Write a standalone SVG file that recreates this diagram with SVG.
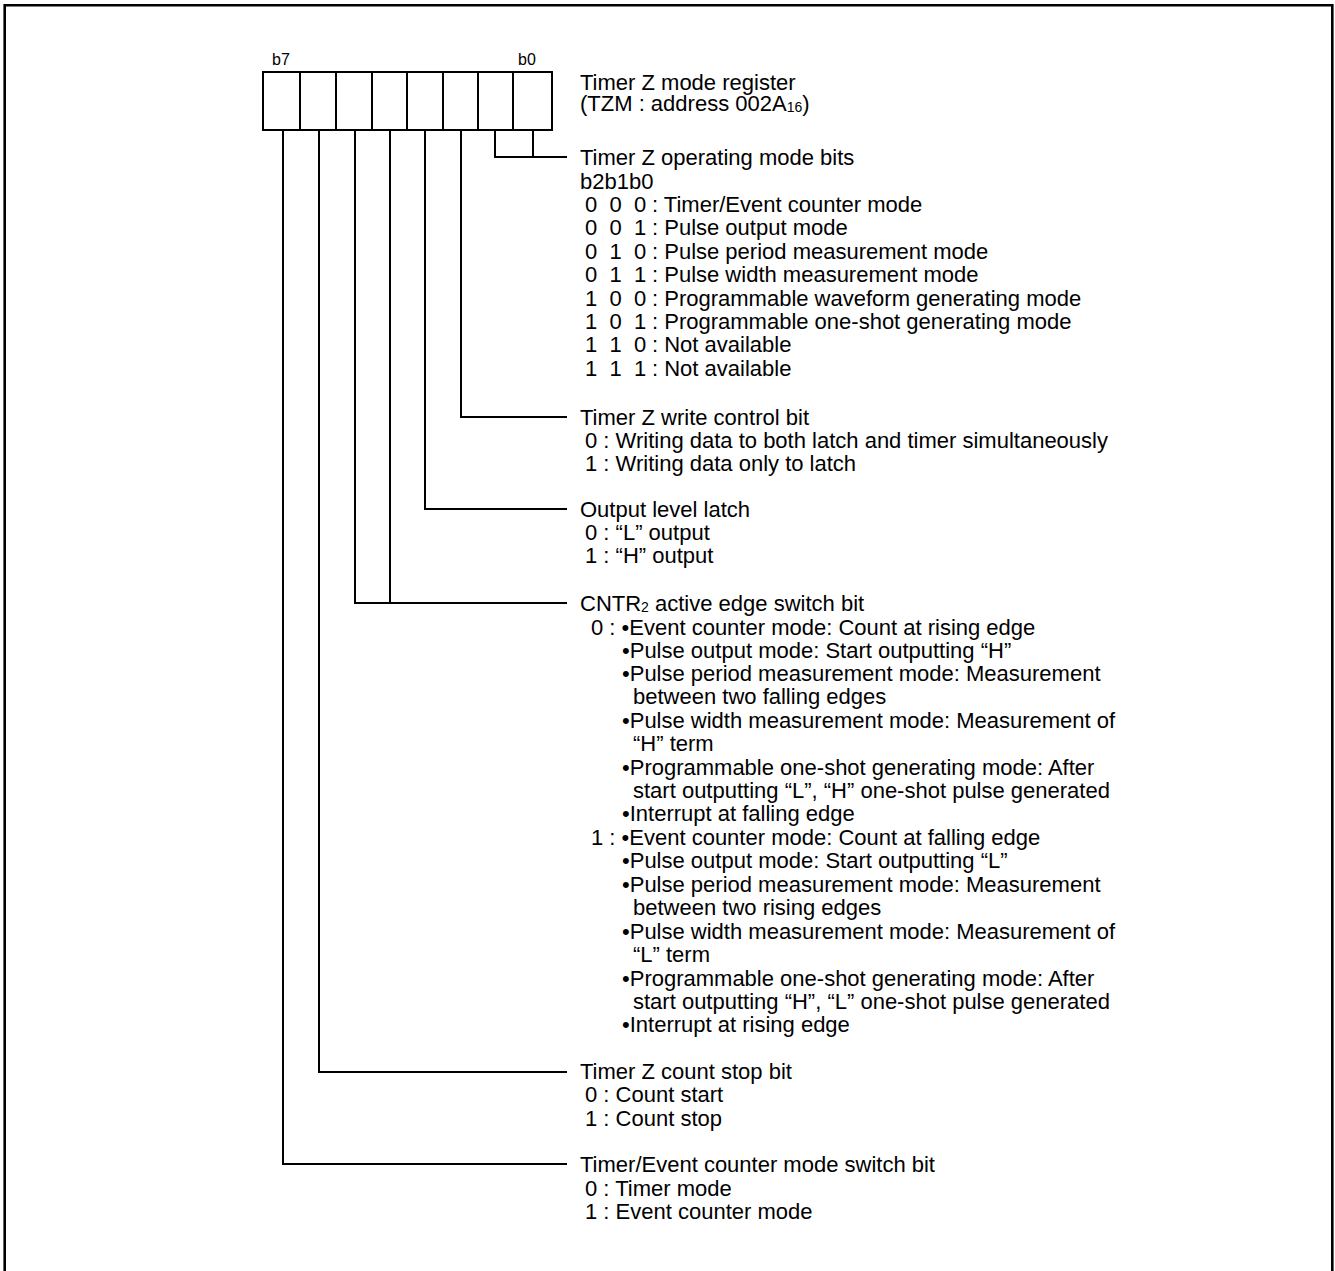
<svg xmlns="http://www.w3.org/2000/svg" width="1335" height="1271" viewBox="0 0 1335 1271">
<style>
text{font-family:"Liberation Sans",Arial,sans-serif;font-size:22px;fill:#000}
.sm{font-size:16px}
.sub{font-size:14px}
.ln{fill:none;stroke:#000;stroke-width:2}
.frame{fill:none;stroke:#000;stroke-width:2.6}
</style>
<rect x="0" y="0" width="1335" height="1271" fill="#fff"/>
<path class="frame" d="M4.7,1272 V5.3 H1332.3 V1272"/>
<g id="register">
<rect class="ln" x="263" y="72" width="289" height="58"/>
<path class="ln" d="M300,72V130M336,72V130M372,72V130M407,72V130M443,72V130M478,72V130M513,72V130"/>
<text class="sm" x="272" y="65">b7</text>
<text class="sm" x="518" y="65">b0</text>
<text x="580" y="90">Timer Z mode register</text>
<text x="580" y="111">(TZM : address 002A<tspan class="sub" dy="1">16</tspan><tspan dy="-1">)</tspan></text>
</g>
<g id="connectors">
<path class="ln" d="M533,130V157M495,130V157H567"/>
<path class="ln" d="M461,130V417H567"/>
<path class="ln" d="M425,130V509H567"/>
<path class="ln" d="M390,130V603M355,130V603H567"/>
<path class="ln" d="M319,130V1072H567"/>
<path class="ln" d="M283,130V1164H567"/>
</g>
<g id="mode-bits">
<text x="580" y="165">Timer Z operating mode bits</text>
<text x="580" y="189">b2b1b0</text>
<text y="212"><tspan x="585">0</tspan><tspan x="609.5">0</tspan><tspan x="634">0</tspan><tspan x="652">: Timer/Event counter mode</tspan></text>
<text y="235"><tspan x="585">0</tspan><tspan x="609.5">0</tspan><tspan x="634">1</tspan><tspan x="652">: Pulse output mode</tspan></text>
<text y="259"><tspan x="585">0</tspan><tspan x="609.5">1</tspan><tspan x="634">0</tspan><tspan x="652">: Pulse period measurement mode</tspan></text>
<text y="282"><tspan x="585">0</tspan><tspan x="609.5">1</tspan><tspan x="634">1</tspan><tspan x="652">: Pulse width measurement mode</tspan></text>
<text y="306"><tspan x="585">1</tspan><tspan x="609.5">0</tspan><tspan x="634">0</tspan><tspan x="652">: Programmable waveform generating mode</tspan></text>
<text y="329"><tspan x="585">1</tspan><tspan x="609.5">0</tspan><tspan x="634">1</tspan><tspan x="652">: Programmable one-shot generating mode</tspan></text>
<text y="352"><tspan x="585">1</tspan><tspan x="609.5">1</tspan><tspan x="634">0</tspan><tspan x="652">: Not available</tspan></text>
<text y="376"><tspan x="585">1</tspan><tspan x="609.5">1</tspan><tspan x="634">1</tspan><tspan x="652">: Not available</tspan></text>
</g>
<g id="write-control">
<text x="580" y="425">Timer Z write control bit</text>
<text x="585" y="448">0 : Writing data to both latch and timer simultaneously</text>
<text x="585" y="471">1 : Writing data only to latch</text>
</g>
<g id="output-level">
<text x="580" y="517">Output level latch</text>
<text x="585" y="540">0 : “L” output</text>
<text x="585" y="563">1 : “H” output</text>
</g>
<g id="cntr2-edge">
<text x="580" y="611">CNTR<tspan class="sub" dy="1">2</tspan><tspan dy="-1"> active edge switch bit</tspan></text>
<text x="591" y="635">0 : •Event counter mode: Count at rising edge</text>
<text x="622" y="658">•Pulse output mode: Start outputting “H”</text>
<text x="622" y="681">•Pulse period measurement mode: Measurement</text>
<text x="633" y="704">between two falling edges</text>
<text x="622" y="728">•Pulse width measurement mode: Measurement of</text>
<text x="633" y="751">“H” term</text>
<text x="622" y="775">•Programmable one-shot generating mode: After</text>
<text x="633" y="798">start outputting “L”, “H” one-shot pulse generated</text>
<text x="622" y="821">•Interrupt at falling edge</text>
<text x="591" y="845">1 : •Event counter mode: Count at falling edge</text>
<text x="622" y="868">•Pulse output mode: Start outputting “L”</text>
<text x="622" y="892">•Pulse period measurement mode: Measurement</text>
<text x="633" y="915">between two rising edges</text>
<text x="622" y="939">•Pulse width measurement mode: Measurement of</text>
<text x="633" y="962">“L” term</text>
<text x="622" y="986">•Programmable one-shot generating mode: After</text>
<text x="633" y="1009">start outputting “H”, “L” one-shot pulse generated</text>
<text x="622" y="1032">•Interrupt at rising edge</text>
</g>
<g id="count-stop">
<text x="580" y="1079">Timer Z count stop bit</text>
<text x="585" y="1102">0 : Count start</text>
<text x="585" y="1126">1 : Count stop</text>
</g>
<g id="timer-event-switch">
<text x="580" y="1172">Timer/Event counter mode switch bit</text>
<text x="585" y="1196">0 : Timer mode</text>
<text x="585" y="1219">1 : Event counter mode</text>
</g>
</svg>
